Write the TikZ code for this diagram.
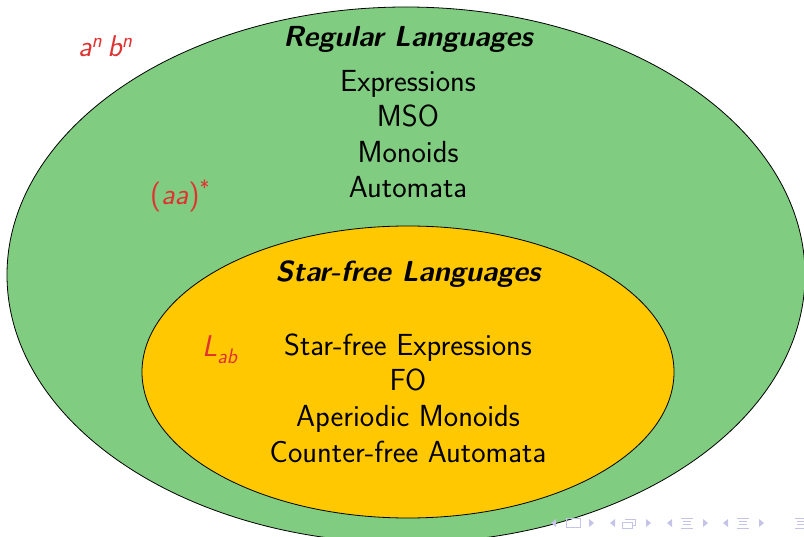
\documentclass[tikz,border=0pt]{standalone}
\usepackage{fontspec}
\renewcommand{\familydefault}{\sfdefault}
\usetikzlibrary{shapes.geometric}
\definecolor{reggreen}{RGB}{128,204,128}
\definecolor{sfyellow}{RGB}{255,200,0}
\definecolor{exred}{RGB}{225,50,50}
\definecolor{navcol}{RGB}{196,196,232}
\tikzset{
  region/.style={draw=black, line width=0.8pt},
  title/.style={font=\fontsize{29}{34}\selectfont\bfseries\itshape, inner sep=0pt, anchor=base},
  item/.style={font=\fontsize{30.5}{36}\selectfont, inner sep=0pt, anchor=base},
  example/.style={font=\fontsize{30}{36}\selectfont, text=exred, inner sep=0pt, anchor=base west},
  nav/.style={fill=navcol, draw=none},
  navline/.style={draw=navcol, line width=1pt},
}
\begin{document}
\begin{tikzpicture}[x=1pt,y=-1pt]
\useasboundingbox (0,0) rectangle (804,537);
\clip (0,0) rectangle (804,537);
% regions
\draw[region, fill=reggreen] (406,275) ellipse [x radius=399, y radius=268];
\draw[region, fill=sfyellow] (408,372) ellipse [x radius=266, y radius=146];
% regular languages
\node[title] (regt) at (408,47) {Regular Languages};
\node[item] (expr) at (408,92) {Expressions};
\node[item] (mso) at (408,127) {MSO};
\node[item] (mon) at (408,163) {Monoids};
\node[item] (aut) at (408,198) {Automata};
% star-free languages
\node[title] (sft) at (408,282) {Star-free Languages};
\node[item] (sfe) at (408,356) {Star-free Expressions};
\node[item] (fo) at (408,391) {FO};
\node[item] (ape) at (408,427) {Aperiodic Monoids};
\node[item] (cfa) at (408,463) {Counter-free Automata};
% examples
\node[example] (anbn) at (78,57) {\itshape a\textsuperscript{n}\,b\textsuperscript{n}};
\node[example] (aastar) at (150,205) {(\textit{aa})\textsuperscript{*}};
\node[example] (lab) at (202,357) {\itshape L\textsubscript{ab}};
% navigation symbols
\begin{scope}[shift={(0,523)}]
  \fill[nav] (551,0) -- (556,-4) -- (556,4) -- cycle;
  \draw[navline] (566,-4.5) rectangle (580,4.5);
  \fill[nav] (594,0) -- (589,-4) -- (589,4) -- cycle;
  \fill[nav] (610,0) -- (615,-4) -- (615,4) -- cycle;
  \draw[navline] (622,-1) rectangle (632,5);
  \draw[navline] (625,-3.5) -- (625,-4) -- (635,-4) -- (635,2) -- (632,2);
  \fill[nav] (651,0) -- (646,-4) -- (646,4) -- cycle;
  \fill[nav] (667,0) -- (672,-4) -- (672,4) -- cycle;
  \draw[navline] (681,-5) -- (693,-5) (683,-1.5) -- (691,-1.5) (683,1.5) -- (691,1.5) (681,5) -- (693,5);
  \fill[nav] (708,0) -- (703,-4) -- (703,4) -- cycle;
  \fill[nav] (723,0) -- (728,-4) -- (728,4) -- cycle;
  \draw[navline] (737,-5) -- (749,-5) (739,-1.5) -- (747,-1.5) (739,1.5) -- (747,1.5) (737,5) -- (749,5);
  \fill[nav] (764,0) -- (759,-4) -- (759,4) -- cycle;
  \draw[navline] (795,-5) -- (807,-5) (797,-1.5) -- (805,-1.5) (797,1.5) -- (805,1.5) (795,5) -- (807,5);
\end{scope}
\end{tikzpicture}
\end{document}
